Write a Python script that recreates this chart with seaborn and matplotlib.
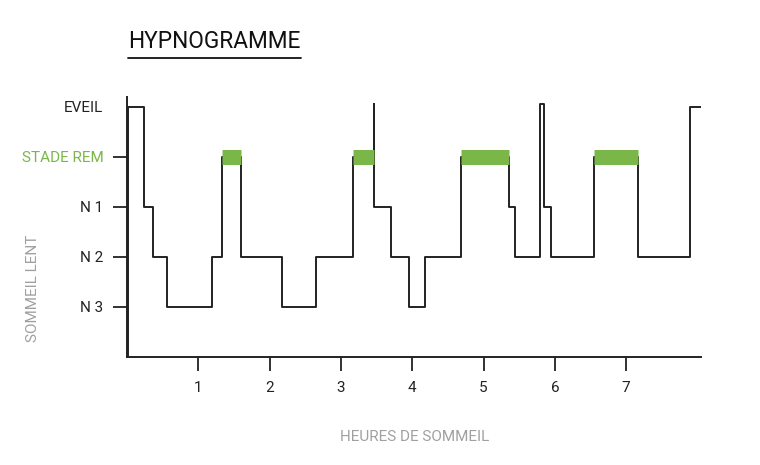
import matplotlib
matplotlib.use("Agg")
import matplotlib.pyplot as plt
from matplotlib.lines import Line2D
import seaborn as sns
import pandas as pd

# ---- data ----
stage_labels = ["N 3", "N 2", "N 1", "STADE REM", "EVEIL"]
stage_levels = [1, 2, 3, 4, 5]
x_ticks = [1, 2, 3, 4, 5, 6, 7]

# start time (hours) of each segment and its stage level
seg_start = [0.000, 0.020, 0.238, 0.365, 0.561, 1.192, 1.332, 1.599, 2.174, 2.651,
             3.170, 3.464, 3.464, 3.703, 3.955, 4.180, 4.684, 5.358, 5.442, 5.792,
             5.849, 5.947, 6.550, 7.167, 7.896, 8.065]
seg_stage = [0, 5, 3, 2, 1, 2, 4, 2, 1, 2,
             4, 5.06, 3, 2, 1, 2, 4, 3, 2, 5.06,
             3, 2, 4, 2, 5, 5]

# REM periods (start, end)
rem_start = [1.332, 3.170, 4.684, 6.550]
rem_end = [1.599, 3.464, 5.358, 7.167]
REM_LEVEL = 4

GREEN = "#7ab648"
DARK = "#222222"
GREY = "#a0a0a0"

sns.set_theme(style="white")
plt.rcParams["font.family"] = ["Roboto", "DejaVu Sans"]

fig = plt.figure(figsize=(7.6, 4.65), dpi=100)
ax = fig.add_axes([127 / 760, 108 / 465, 574 / 760, 260 / 465])

df = pd.DataFrame({"t": seg_start, "stage": seg_stage})
sns.lineplot(data=df, x="t", y="stage", ax=ax, estimator=None, sort=False,
             drawstyle="steps-post", color=DARK, linewidth=1.4)

ax.hlines([REM_LEVEL] * len(rem_start), rem_start, rem_end, colors=GREEN,
          linewidth=10.8, capstyle="butt", zorder=3)

ax.set_xlim(0, 8.05)
ax.set_ylim(0, 5.2)

ax.set_xticks(x_ticks)
ax.set_xticklabels([str(v) for v in x_ticks])
ax.set_yticks(stage_levels)
ax.set_yticklabels(stage_labels)
ax.set_xlabel("")
ax.set_ylabel("")

for lab in ax.get_yticklabels():
    if lab.get_text() == "STADE REM":
        lab.set_color(GREEN)
    else:
        lab.set_color(DARK)
for lab in ax.get_xticklabels():
    lab.set_color(DARK)

ax.tick_params(axis="both", direction="out", length=10, width=1.3, color=DARK,
               labelsize=11, bottom=True, left=True)
ax.tick_params(axis="y", pad=7)
ax.tick_params(axis="x", pad=7)
ax.yaxis.get_major_ticks()[-1].tick1line.set_visible(False)

sns.despine(ax=ax)
for s in ["left", "bottom"]:
    ax.spines[s].set_color(DARK)
    ax.spines[s].set_linewidth(1.4)

# axis titles
fig.text(415 / 760, 1 - 437 / 465, "HEURES DE SOMMEIL", ha="center", va="center",
         color=GREY, fontsize=11)
fig.text(33 / 760, 1 - 288 / 465, "SOMMEIL LENT", ha="center", va="center",
         rotation=90, color=GREY, fontsize=11)

# title with underline
fig.text(128 / 760, 1 - 48 / 465, "HYPNOGRAMME", ha="left", va="baseline",
         color="#111111", fontsize=16.3)
fig.add_artist(Line2D([128 / 760, 301 / 760], [1 - 58 / 465, 1 - 58 / 465],
                      transform=fig.transFigure, color="#111111", linewidth=1.3))

fig.savefig("out.png", dpi=100)
